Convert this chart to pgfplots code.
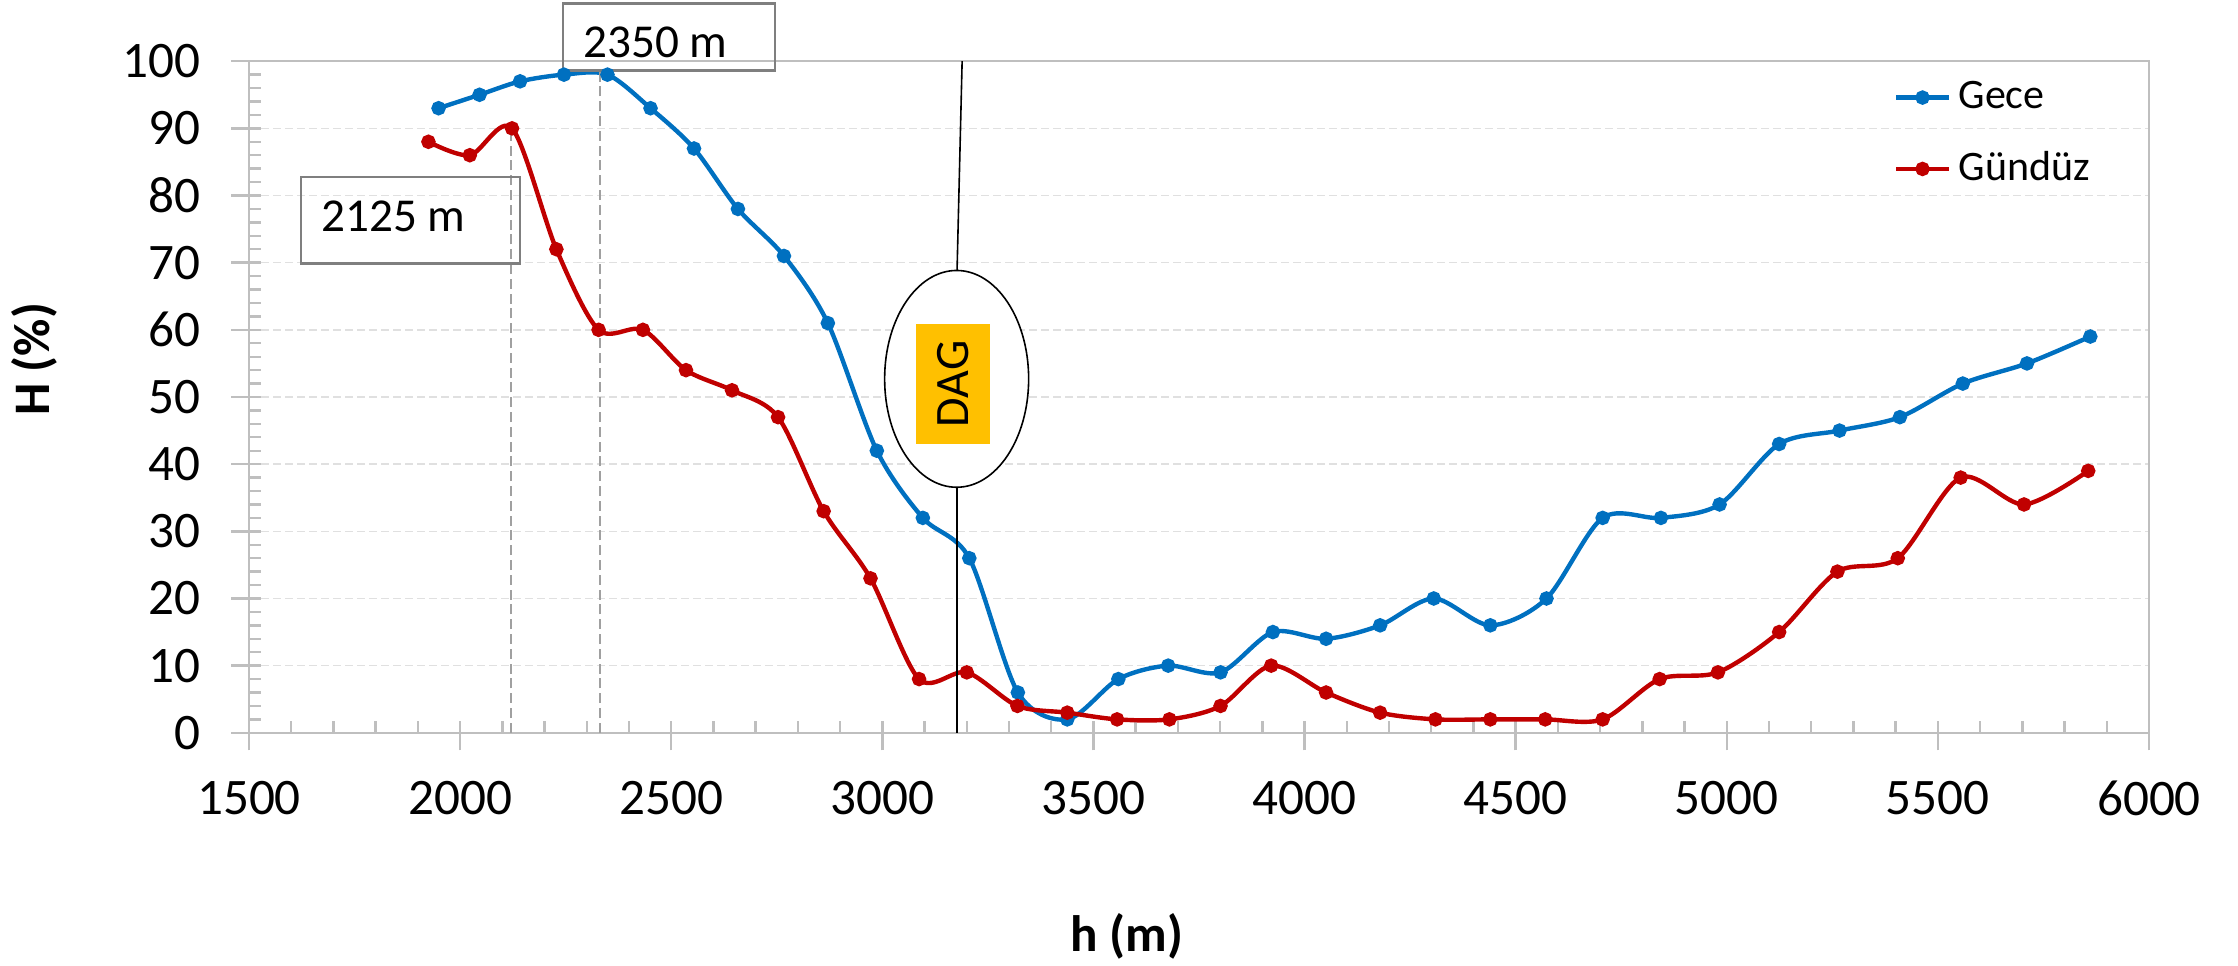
\documentclass[border=0pt]{standalone}
\usepackage{fontspec}
\setmainfont{Carlito}
\usepackage{pgfplots}
\pgfplotsset{compat=1.18}

\definecolor{gece}{HTML}{0070C0}
\definecolor{gunduz}{HTML}{C00000}
\definecolor{axisgray}{HTML}{BFBFBF}
\definecolor{gridgray}{HTML}{E0E0E0}
\definecolor{boxgray}{HTML}{7F7F7F}
\definecolor{dashgray}{HTML}{A0A0A0}
\definecolor{dagorange}{HTML}{FFC000}

\begin{document}
\begin{tikzpicture}
\begin{axis}[
  scale only axis,
  width=475bp, height=167.9bp,
  xmin=1500, xmax=6000,
  ymin=0, ymax=100,
  xtick={1500,2000,...,6000},
  ytick={0,10,...,100},
  minor x tick num=4,
  minor y tick num=4,
  tick pos=left,
  tick align=inside,
  major tick length=7.4bp,
  minor tick length=3bp,
  major x tick style={yshift=-4.4bp},
  major y tick style={xshift=-4.4bp},
  tick style={color=axisgray, line width=0.6bp},
  axis line style={color=axisgray, line width=0.6bp},
  ymajorgrids,
  major grid style={color=gridgray, line width=0.4bp, dash pattern=on 2bp off 1bp},
  scaled x ticks=false,
  /pgf/number format/1000 sep={},
  /pgf/number format/assume math mode=true,
  tick label style={font=\fontsize{12.8bp}{15bp}\selectfont, text=black},
  xticklabel style={yshift=-8.5bp},
  yticklabel style={xshift=-8.7bp},
  clip=false,
  legend cell align=left,
  legend image code/.code={\draw[mark repeat=2,mark phase=2] plot coordinates {(0bp,0bp) (6.6bp,0bp) (13.25bp,0bp)};},
  legend style={draw=none, fill=none, at={(axis cs:5394,89.2)}, anchor=west,
    inner sep=0pt, row sep=9.3bp, column sep=1.8bp,
    nodes={inner sep=0pt},
    font=\fontsize{10.5bp}{12bp}\selectfont},
]

% Gece (night)
\addplot[gece, line width=1.1bp, smooth, mark=*, mark size=1.25bp] coordinates {
  (1949,93) (2046,95) (2142,97) (2246,98) (2349,98) (2451,93) (2554,87)
  (2658,78) (2767,71) (2871,61) (2987,42) (3096,32) (3206,26) (3321,6)
  (3438,2) (3559,8) (3677,10) (3801,9) (3925,15) (4051,14) (4179,16)
  (4306,20) (4440,16) (4573,20) (4706,32) (4844,32) (4983,34) (5124,43)
  (5267,45) (5410,47) (5559,52) (5711,55) (5861,59)
};
\addlegendentry{Gece}

% Gunduz (day)
\addplot[gunduz, line width=1.1bp, smooth, mark=*, mark size=1.25bp] coordinates {
  (1925,88) (2023,86) (2123,90) (2228,72) (2328,60) (2433,60) (2535,54)
  (2644,51) (2753,47) (2861,33) (2972,23) (3087,8) (3200,9) (3320,4)
  (3438,3) (3556,2) (3680,2) (3801,4) (3921,10) (4051,6) (4179,3)
  (4310,2) (4440,2) (4570,2) (4706,2) (4841,8) (4979,9) (5124,15)
  (5262,24) (5405,26) (5554,38) (5704,34) (5856,39)
};
\addlegendentry{Gündüz}

% altitude markers
\draw[dashgray, line width=0.5bp, dash pattern=on 2.5bp off 1.2bp] (axis cs:2331,0) -- (axis cs:2331,98.6);
\draw[dashgray, line width=0.5bp, dash pattern=on 2.5bp off 1.2bp] (axis cs:2120,0) -- (axis cs:2120,89.7);
\draw[boxgray, line width=0.6bp] (axis cs:2244,98.6) rectangle (axis cs:2746,108.6);
\draw[boxgray, line width=0.6bp] (axis cs:1623,69.9) rectangle (axis cs:2142,82.8);
\node[anchor=base west, inner sep=0pt, font=\fontsize{11.8bp}{14bp}\selectfont] at (axis cs:2290,100.6) {2350 m};
\node[anchor=base west, inner sep=0pt, font=\fontsize{11.8bp}{14bp}\selectfont] at (axis cs:1670,74.6) {2125 m};

% mountain (DAG)
\draw[black, line width=0.4bp] (axis cs:3177,0) -- (axis cs:3177,36.6);
\draw[black, line width=0.4bp] (axis cs:3177,68.9) -- (axis cs:3189,100);
\draw[black, line width=0.4bp, fill=white] (axis cs:3176,52.7) ellipse [x radius=18bp, y radius=27.1bp];
\node[rotate=90, fill=dagorange, inner sep=0pt, minimum width=30bp, minimum height=18.5bp,
  font=\fontsize{12bp}{14bp}\selectfont] at (axis cs:3166.5,51.95) {DAG};

% axis titles
\node[rotate=90, anchor=base, font=\bfseries\fontsize{12.8bp}{15bp}\selectfont] at ([xshift=-49.75bp]axis description cs:0,0.556) {H (\%)};
\node[anchor=base, font=\bfseries\fontsize{12.8bp}{15bp}\selectfont] at ([yshift=-54.75bp]axis description cs:0.462,0) {h (m)};
\end{axis}
\pgfresetboundingbox
\path ([shift={(-62.25bp,-58.3bp)}]current axis.south west) rectangle ([shift={(22.25bp,15.3bp)}]current axis.north east);
\end{tikzpicture}
\end{document}
